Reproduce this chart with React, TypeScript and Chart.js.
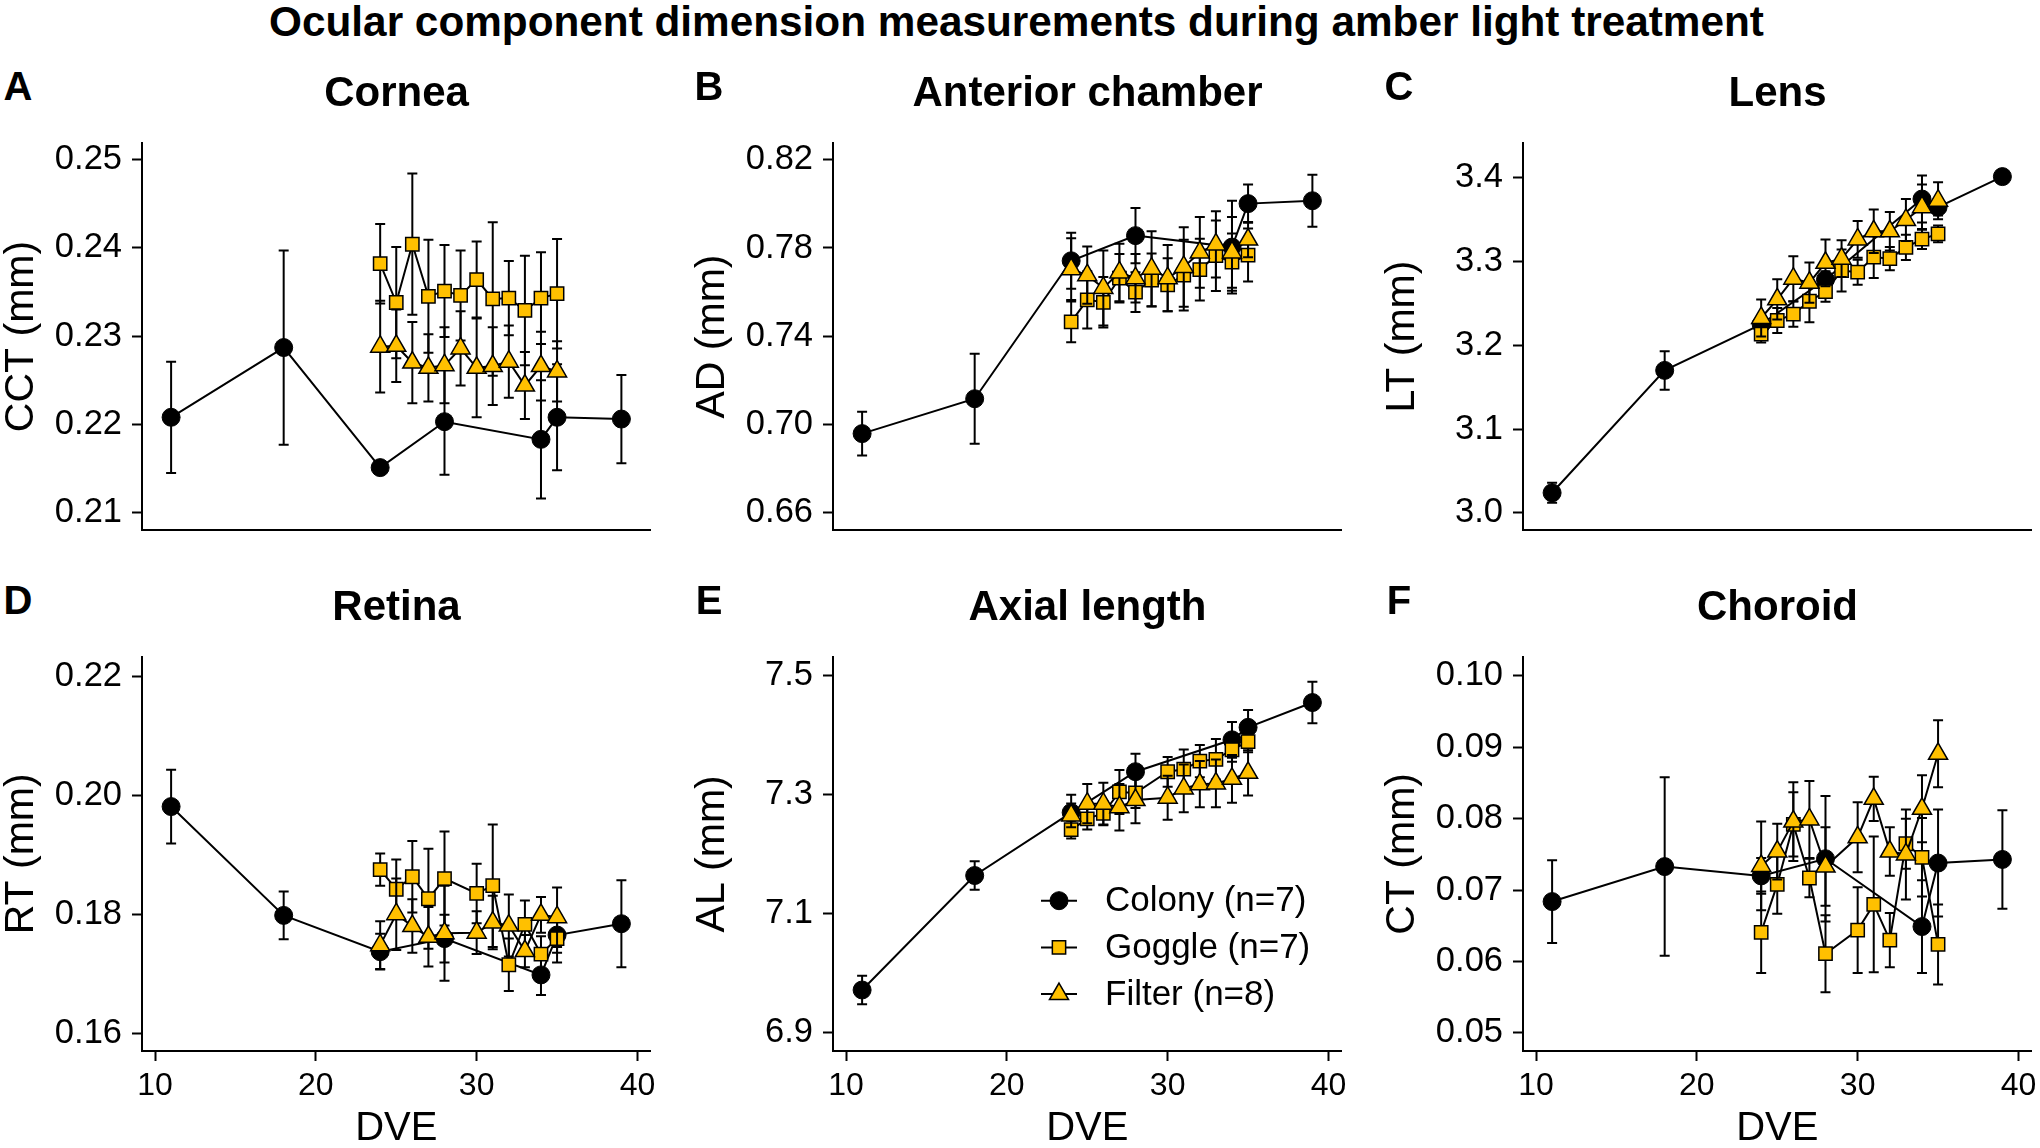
import React, { useEffect, useRef } from 'react';
import { Chart, registerables } from 'chart.js';

Chart.register(...registerables);

const FONT = "'Liberation Sans', Arial, Helvetica, sans-serif";
const YELLOW = '#FFC000';

// ---------- x (DVE) values ----------
const dveColony = [11, 18, 24, 28, 34, 35, 39];
const dveTreat12 = [24, 25, 26, 27, 28, 29, 30, 31, 32, 33, 34, 35];
const dveTreat11 = [24, 25, 26, 27, 28, 30, 31, 32, 33, 34, 35];
const xTickValues = [10, 20, 30, 40];
const xTickLabels = ['10', '20', '30', '40'];

// ---------- A: Cornea (CCT) ----------
const corneaColony = [0.2208, 0.2287, 0.2151, 0.2203, 0.2183, 0.2208, 0.2206];
const corneaColonyErr = [0.0063, 0.011, 0.0005, 0.006, 0.0067, 0.006, 0.005];
const corneaGoggle = [0.2382, 0.2338, 0.2404, 0.2345, 0.2351, 0.2346, 0.2364, 0.2342, 0.2343, 0.2329, 0.2343, 0.2348];
const corneaGoggleErr = [0.0045, 0.0063, 0.008, 0.0064, 0.0052, 0.0051, 0.0043, 0.0087, 0.0042, 0.0062, 0.0052, 0.0062];
const corneaFilter = [0.2288, 0.2289, 0.227, 0.2264, 0.2267, 0.2286, 0.2264, 0.2266, 0.2271, 0.2244, 0.2266, 0.226];
const corneaFilterErr = [0.0052, 0.0041, 0.0046, 0.0038, 0.0043, 0.0042, 0.0056, 0.0044, 0.0041, 0.0038, 0.0039, 0.0034];
const corneaTicks = [0.21, 0.22, 0.23, 0.24, 0.25];
const corneaTickLabels = ['0.21', '0.22', '0.23', '0.24', '0.25'];

// ---------- B: Anterior chamber (AD) ----------
const adColony = [0.6959, 0.7117, 0.7742, 0.7856, 0.7804, 0.8001, 0.8014];
const adColonyErr = [0.0099, 0.0204, 0.0127, 0.0125, 0.021, 0.0087, 0.0118];
const adGoggle = [0.7465, 0.7565, 0.7554, 0.7663, 0.76, 0.7655, 0.7633, 0.7677, 0.7702, 0.7765, 0.7736, 0.7768];
const adGoggleErr = [0.0092, 0.013, 0.0114, 0.011, 0.009, 0.012, 0.012, 0.016, 0.014, 0.016, 0.013, 0.012];
const adFilter = [0.7704, 0.7677, 0.7619, 0.7689, 0.7663, 0.7706, 0.7663, 0.7714, 0.778, 0.7816, 0.778, 0.7838];
const adFilterErr = [0.014, 0.013, 0.017, 0.013, 0.011, 0.017, 0.015, 0.018, 0.016, 0.015, 0.016, 0.008];
const adTicks = [0.66, 0.7, 0.74, 0.78, 0.82];
const adTickLabels = ['0.66', '0.70', '0.74', '0.78', '0.82'];

// ---------- C: Lens (LT) ----------
const ltColony = [3.0238, 3.17, 3.225, 3.2785, 3.3747, 3.365, 3.4015];
const ltColonyErr = [0.012, 0.023, 0.01, 0.01, 0.028, 0.01, 0.008];
const ltGoggle = [3.2134, 3.2296, 3.2372, 3.2526, 3.264, 3.2893, 3.2873, 3.3054, 3.3035, 3.3169, 3.3269, 3.333];
const ltGoggleErr = [0.01, 0.015, 0.015, 0.025, 0.012, 0.025, 0.015, 0.025, 0.014, 0.015, 0.012, 0.01];
const ltFilter = [3.2326, 3.2549, 3.2795, 3.2748, 3.2985, 3.3035, 3.3265, 3.3362, 3.3362, 3.3497, 3.365, 3.3727];
const ltFilterErr = [0.022, 0.024, 0.027, 0.024, 0.028, 0.022, 0.022, 0.026, 0.023, 0.025, 0.027, 0.022];
const ltTicks = [3.0, 3.1, 3.2, 3.3, 3.4];
const ltTickLabels = ['3.0', '3.1', '3.2', '3.3', '3.4'];

// ---------- D: Retina (RT) ----------
const rtColony = [0.1981, 0.1798, 0.1737, 0.1759, 0.1698, 0.1765, 0.1784];
const rtColonyErr = [0.0062, 0.004, 0.003, 0.004, 0.0034, 0.003, 0.0073];
const rtGoggle = [0.1875, 0.1842, 0.1863, 0.1826, 0.186, 0.1835, 0.1848, 0.1715, 0.1783, 0.1733, 0.1759];
const rtGoggleErr = [0.0027, 0.005, 0.006, 0.0084, 0.0079, 0.005, 0.0103, 0.0044, 0.004, 0.003, 0.004];
const rtFilter = [0.1748, 0.18, 0.178, 0.1762, 0.1768, 0.1769, 0.1786, 0.1781, 0.1738, 0.1799, 0.1795];
const rtFilterErr = [0.004, 0.006, 0.0045, 0.005, 0.008, 0.0036, 0.0045, 0.0052, 0.0027, 0.003, 0.005];
const rtTicks = [0.16, 0.18, 0.2, 0.22];
const rtTickLabels = ['0.16', '0.18', '0.20', '0.22'];

// ---------- E: Axial length (AL) ----------
const alColony = [6.9721, 7.1644, 7.2702, 7.3388, 7.3924, 7.4133, 7.455];
const alColonyErr = [0.024, 0.024, 0.03, 0.03, 0.03, 0.029, 0.035];
const alGoggle = [7.2416, 7.2595, 7.269, 7.3048, 7.303, 7.3387, 7.343, 7.3566, 7.3596, 7.3757, 7.3894];
const alGoggleErr = [0.015, 0.018, 0.02, 0.037, 0.025, 0.025, 0.033, 0.027, 0.034, 0.02, 0.018];
const alFilter = [7.2654, 7.2851, 7.2851, 7.2791, 7.2911, 7.2952, 7.3107, 7.3179, 7.3191, 7.3268, 7.337];
const alFilterErr = [0.02, 0.033, 0.035, 0.039, 0.039, 0.037, 0.04, 0.039, 0.04, 0.04, 0.038];
const alTicks = [6.9, 7.1, 7.3, 7.5];
const alTickLabels = ['6.9', '7.1', '7.3', '7.5'];

// ---------- F: Choroid (CT) ----------
const ctColony = [0.0684, 0.0733, 0.072, 0.0744, 0.0649, 0.0738, 0.0743];
const ctColonyErr = [0.0058, 0.0125, 0.0025, 0.0088, 0.0065, 0.0075, 0.0069];
const ctGoggle = [0.0641, 0.0708, 0.0792, 0.0717, 0.0611, 0.0644, 0.068, 0.063, 0.0765, 0.0746, 0.0624];
const ctGoggleErr = [0.0057, 0.0041, 0.0045, 0.0027, 0.0054, 0.006, 0.0095, 0.0038, 0.0035, 0.0055, 0.0056];
const ctFilter = [0.0734, 0.0754, 0.0796, 0.0799, 0.0733, 0.0774, 0.0828, 0.0754, 0.075, 0.0814, 0.0891];
const ctFilterErr = [0.0062, 0.0039, 0.0055, 0.0054, 0.0055, 0.0049, 0.0031, 0.0034, 0.0063, 0.0047, 0.0047];
const ctTicks = [0.05, 0.06, 0.07, 0.08, 0.09, 0.1];
const ctTickLabels = ['0.05', '0.06', '0.07', '0.08', '0.09', '0.10'];

const legendLabels = ['Colony (n=7)', 'Goggle (n=7)', 'Filter (n=8)'];

// ---------- layout constants ----------
const X_MIN = 9.19;
const X_MAX = 40.81;
const PLOT_W = 509;
const PLOT_H = 401;
const Y_AXIS_W = 141;
const X_AXIS_H = 98;
const PAD = 24;
const PAD_R = 12;
const COL_LEFT = [142, 833, 1523];
const ROW_TOP = [136, 650];

type Series = { x: number[]; y: number[]; err: number[] };
type PanelSpec = {
  letter: string;
  title: string;
  yTitle: string;
  yMin: number;
  yMax: number;
  yTicks: number[];
  yTickLabels: string[];
  colony: Series;
  goggle: Series;
  filter: Series;
  col: number;
  row: number;
  legend?: boolean;
};

const panels: PanelSpec[] = [
  { letter: 'A', title: 'Cornea', yTitle: 'CCT (mm)', yMin: 0.208, yMax: 0.2519, yTicks: corneaTicks, yTickLabels: corneaTickLabels,
    colony: { x: dveColony, y: corneaColony, err: corneaColonyErr }, goggle: { x: dveTreat12, y: corneaGoggle, err: corneaGoggleErr },
    filter: { x: dveTreat12, y: corneaFilter, err: corneaFilterErr }, col: 0, row: 0 },
  { letter: 'B', title: 'Anterior chamber', yTitle: 'AD (mm)', yMin: 0.6521, yMax: 0.8277, yTicks: adTicks, yTickLabels: adTickLabels,
    colony: { x: dveColony, y: adColony, err: adColonyErr }, goggle: { x: dveTreat12, y: adGoggle, err: adGoggleErr },
    filter: { x: dveTreat12, y: adFilter, err: adFilterErr }, col: 1, row: 0 },
  { letter: 'C', title: 'Lens', yTitle: 'LT (mm)', yMin: 2.979, yMax: 3.442, yTicks: ltTicks, yTickLabels: ltTickLabels,
    colony: { x: dveColony, y: ltColony, err: ltColonyErr }, goggle: { x: dveTreat12, y: ltGoggle, err: ltGoggleErr },
    filter: { x: dveTreat12, y: ltFilter, err: ltFilterErr }, col: 2, row: 0 },
  { letter: 'D', title: 'Retina', yTitle: 'RT (mm)', yMin: 0.157, yMax: 0.2233, yTicks: rtTicks, yTickLabels: rtTickLabels,
    colony: { x: dveColony, y: rtColony, err: rtColonyErr }, goggle: { x: dveTreat11, y: rtGoggle, err: rtGoggleErr },
    filter: { x: dveTreat11, y: rtFilter, err: rtFilterErr }, col: 0, row: 1 },
  { letter: 'E', title: 'Axial length', yTitle: 'AL (mm)', yMin: 6.8696, yMax: 7.532, yTicks: alTicks, yTickLabels: alTickLabels,
    colony: { x: dveColony, y: alColony, err: alColonyErr }, goggle: { x: dveTreat11, y: alGoggle, err: alGoggleErr },
    filter: { x: dveTreat11, y: alFilter, err: alFilterErr }, col: 1, row: 1, legend: true },
  { letter: 'F', title: 'Choroid', yTitle: 'CT (mm)', yMin: 0.04747, yMax: 0.1027, yTicks: ctTicks, yTickLabels: ctTickLabels,
    colony: { x: dveColony, y: ctColony, err: ctColonyErr }, goggle: { x: dveTreat11, y: ctGoggle, err: ctGoggleErr },
    filter: { x: dveTreat11, y: ctFilter, err: ctFilterErr }, col: 2, row: 1 },
];

const errorBarPlugin = {
  id: 'errorBars',
  beforeDatasetDraw(chart: any, args: any) {
    const ds: any = chart.data.datasets[args.index];
    const err: number[] | undefined = ds.errValues;
    if (!err) return;
    const xs = chart.scales.x;
    const ys = chart.scales.y;
    const ctx: CanvasRenderingContext2D = chart.ctx;
    ctx.save();
    ctx.strokeStyle = '#000';
    ctx.lineWidth = 2;
    ds.data.forEach((p: any, i: number) => {
      const px = xs.getPixelForValue(p.x);
      const yt = ys.getPixelForValue(p.y + err[i]);
      const yb = ys.getPixelForValue(p.y - err[i]);
      ctx.beginPath();
      ctx.moveTo(px, yt);
      ctx.lineTo(px, yb);
      ctx.moveTo(px - 5, yt);
      ctx.lineTo(px + 5, yt);
      ctx.moveTo(px - 5, yb);
      ctx.lineTo(px + 5, yb);
      ctx.stroke();
    });
    ctx.restore();
  },
};

const MARKERS = [
  { style: 'circle', radius: 9, fill: '#000', bw: 1 },
  { style: 'rect', radius: 9.4, fill: YELLOW, bw: 1.5 },
  { style: 'triangle', radius: 11, fill: YELLOW, bw: 1.5 },
];

function drawMarker(ctx: CanvasRenderingContext2D, style: string, x: number, y: number, r: number) {
  ctx.beginPath();
  if (style === 'circle') {
    ctx.arc(x, y, r, 0, Math.PI * 2);
  } else if (style === 'rect') {
    const s = r * Math.SQRT1_2;
    ctx.rect(x - s, y - s, 2 * s, 2 * s);
  } else {
    ctx.moveTo(x, y - r);
    ctx.lineTo(x + r * Math.sin(Math.PI * 2 / 3), y - r * Math.cos(Math.PI * 2 / 3));
    ctx.lineTo(x + r * Math.sin(Math.PI * 4 / 3), y - r * Math.cos(Math.PI * 4 / 3));
    ctx.closePath();
  }
}

const legendPlugin = {
  id: 'customLegend',
  afterDraw(chart: any) {
    const ctx: CanvasRenderingContext2D = chart.ctx;
    const area = chart.chartArea;
    const mx = area.left + 226;
    const y0 = area.top + 244;
    const dy = 46.7;
    ctx.save();
    legendLabels.forEach((label, i) => {
      const y = y0 + i * dy;
      const m = MARKERS[i];
      ctx.strokeStyle = '#000';
      ctx.lineWidth = 2;
      ctx.beginPath();
      ctx.moveTo(mx - 18, y);
      ctx.lineTo(mx + 18, y);
      ctx.stroke();
      drawMarker(ctx, m.style, mx, y, m.radius);
      ctx.fillStyle = m.fill;
      ctx.fill();
      ctx.lineWidth = m.bw;
      ctx.stroke();
      ctx.fillStyle = '#000';
      ctx.font = `35px ${FONT}`;
      ctx.textAlign = 'left';
      ctx.textBaseline = 'middle';
      ctx.fillText(label, area.left + 272, y + 1);
    });
    ctx.restore();
  },
};

function makeDataset(s: Series, idx: number, label: string) {
  const m = MARKERS[idx];
  return {
    label,
    data: s.x.map((x, i) => ({ x, y: s.y[i] })),
    errValues: s.err,
    borderColor: '#000',
    borderWidth: 2,
    backgroundColor: m.fill,
    pointStyle: m.style,
    pointRadius: m.radius,
    pointHoverRadius: m.radius,
    pointBackgroundColor: m.fill,
    pointBorderColor: '#000',
    pointBorderWidth: m.bw,
    tension: 0,
    fill: false,
    clip: false as any,
    order: 3 - idx,
  };
}

function Panel({ spec }: { spec: PanelSpec }) {
  const ref = useRef<HTMLCanvasElement>(null);
  const bottom = spec.row === 1;
  const left = COL_LEFT[spec.col] - Y_AXIS_W;
  const top = ROW_TOP[spec.row] - PAD;
  const width = Y_AXIS_W + PLOT_W + PAD_R;
  const height = PAD + PLOT_H + (bottom ? X_AXIS_H : PAD);

  useEffect(() => {
    if (!ref.current) return;
    const chart = new Chart(ref.current, {
      type: 'line',
      data: {
        datasets: [
          makeDataset(spec.colony, 0, legendLabels[0]),
          makeDataset(spec.goggle, 1, legendLabels[1]),
          makeDataset(spec.filter, 2, legendLabels[2]),
        ] as any,
      },
      options: {
        responsive: false,
        maintainAspectRatio: false,
        animation: false,
        events: [],
        layout: { padding: { left: 0, top: PAD, right: PAD_R, bottom: bottom ? 0 : PAD } },
        plugins: {
          legend: { display: false },
          tooltip: { enabled: false },
          title: { display: false },
        },
        scales: {
          x: {
            type: 'linear',
            min: X_MIN,
            max: X_MAX,
            afterBuildTicks: (s: any) => {
              s.ticks = xTickValues.map((v) => ({ value: v }));
            },
            afterFit: (s: any) => {
              s.height = bottom ? X_AXIS_H : 0;
            },
            ticks: {
              display: bottom,
              autoSkip: false,
              maxRotation: 0,
              padding: 6,
              color: '#000',
              font: { family: FONT, size: 32 },
              callback: (_v: any, i: number) => xTickLabels[i],
            },
            grid: {
              display: true,
              drawOnChartArea: false,
              drawTicks: bottom,
              tickLength: 10,
              tickWidth: 2,
              tickColor: '#000',
              color: '#000',
            },
            border: { display: true, color: '#000', width: 2 },
            title: {
              display: bottom,
              text: 'DVE',
              color: '#000',
              padding: 0,
              font: { family: FONT, size: 40, lineHeight: 1 },
            },
          },
          y: {
            type: 'linear',
            min: spec.yMin,
            max: spec.yMax,
            afterBuildTicks: (s: any) => {
              s.ticks = spec.yTicks.map((v) => ({ value: v }));
            },
            afterFit: (s: any) => {
              s.width = Y_AXIS_W;
            },
            ticks: {
              autoSkip: false,
              padding: 10,
              color: '#000',
              font: { family: FONT, size: 34.5 },
              callback: (_v: any, i: number) => spec.yTickLabels[i],
            },
            grid: {
              display: true,
              drawOnChartArea: false,
              drawTicks: true,
              tickLength: 10,
              tickWidth: 2,
              tickColor: '#000',
              color: '#000',
            },
            border: { display: true, color: '#000', width: 2 },
            title: {
              display: true,
              text: spec.yTitle,
              color: '#000',
              padding: 0,
              font: { family: FONT, size: 41, lineHeight: 1 },
            },
          },
        },
      } as any,
      plugins: spec.legend ? [errorBarPlugin, legendPlugin] : [errorBarPlugin],
    });
    return () => chart.destroy();
  }, []);

  const plotLeft = COL_LEFT[spec.col];
  const plotTop = ROW_TOP[spec.row];
  return (
    <>
      <canvas
        ref={ref}
        width={width}
        height={height}
        style={{ position: 'absolute', left, top, width, height }}
      />
      <div
        style={{
          position: 'absolute',
          left: plotLeft - 124 - 40,
          width: 80,
          top: plotTop - 50 - 0.49 * 40,
          fontSize: 40,
          lineHeight: '40px',
          fontWeight: 'bold',
          fontFamily: FONT,
          textAlign: 'center',
          color: '#000',
        }}
      >
        {spec.letter}
      </div>
      <div
        style={{
          position: 'absolute',
          left: plotLeft + PLOT_W / 2 - 300,
          width: 600,
          top: plotTop - 44 - 0.49 * 42,
          fontSize: 42,
          lineHeight: '42px',
          fontWeight: 'bold',
          fontFamily: FONT,
          textAlign: 'center',
          color: '#000',
          whiteSpace: 'nowrap',
        }}
      >
        {spec.title}
      </div>
    </>
  );
}

export default function App() {
  return (
    <div
      style={{
        position: 'absolute',
        left: 0,
        top: 0,
        width: 2040,
        height: 1148,
        overflow: 'hidden',
        background: '#fff',
      }}
    >
      <div
        style={{
          position: 'absolute',
          left: 0,
          width: 2033,
          top: 21.5 - 0.49 * 42.3,
          fontSize: 42.3,
          lineHeight: '42.3px',
          fontWeight: 'bold',
          fontFamily: FONT,
          textAlign: 'center',
          color: '#000',
          whiteSpace: 'nowrap',
        }}
      >
        Ocular component dimension measurements during amber light treatment
      </div>
      {panels.map((p) => (
        <Panel key={p.letter} spec={p} />
      ))}
    </div>
  );
}
